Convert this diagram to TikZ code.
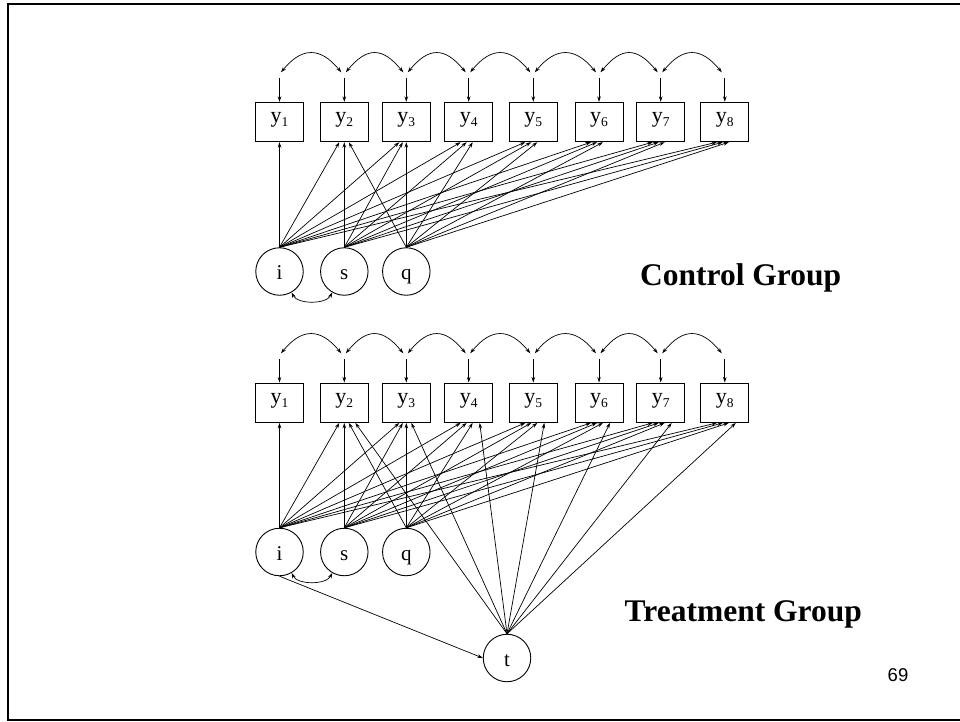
\documentclass[tikz,border=0pt]{standalone}
\usepackage{fontspec}
\setmainfont{Liberation Serif}
\newfontfamily\pagenumfont{Liberation Sans}
\usetikzlibrary{arrows.meta,calc}
\newcommand\ylab[1]{{\fontsize{22}{24}\selectfont y\raisebox{-4pt}{\fontsize{13.5}{15}\selectfont #1}}}
\begin{document}
\begin{tikzpicture}[x=1pt,y=-1pt,
  obs/.style={draw,line width=0.9pt,minimum width=48pt,minimum height=39.5pt,inner sep=0pt,text height=9.5pt,text depth=8.3pt},
  lat/.style={draw,circle,line width=0.9pt,minimum size=47.5pt,inner sep=0pt,font=\fontsize{21}{23}\selectfont,text height=16.6pt,text depth=0pt},
  arr/.style={line width=0.7pt,-{Stealth[length=5.5pt,width=3.6pt]}},
  cov/.style={line width=0.7pt,{Stealth[length=5.5pt,width=3.6pt]}-{Stealth[length=5.5pt,width=3.6pt]}},
  grp/.style={font=\fontsize{31.5}{36}\selectfont\bfseries,inner sep=0pt},
  frame/.style={line width=2pt}
]
\useasboundingbox (0,0) rectangle (960,721);
\draw[frame] (965,3.7) -- (7.7,3.7) -- (7.7,719.6) -- (965,719.6);

% ---------- boxes and residual coordinates ----------
\foreach \x [count=\k] in {279.5,344.3,406.3,468.7,533.3,599,660.7,724.8} {
  \node[obs] (a\k) at (\x,122) {\ylab{\k}};
  \node[obs] (b\k) at (\x,402.7) {\ylab{\k}};
  \coordinate (ra\k) at (\x,78.3);
  \coordinate (rb\k) at (\x,359.3);
  \coordinate (sa\k) at (\x+1.5,72.3);
  \coordinate (ea\k) at (\x-3,72.3);
  \coordinate (sb\k) at (\x+1.5,353.3);
  \coordinate (eb\k) at (\x-3,353.3);
  \draw[arr] (ra\k) -- (a\k);
  \draw[arr] (rb\k) -- (b\k);
}
\foreach \k [evaluate=\k as \n using int(\k+1)] in {1,...,7} {
  \draw[cov] (sa\k) .. controls +(21,-25.5) and +(-21,-25.5) .. (ea\n);
  \draw[cov] (sb\k) .. controls +(21,-25.5) and +(-21,-25.5) .. (eb\n);
}

% ---------- latent variables ----------
\node[lat] (ia) at (279.5,271.5) {i};
\node[lat] (sA) at (344.3,271.5) {s};
\node[lat] (qa) at (406.3,271.5) {q};
\node[lat] (ib) at (279.5,552) {i};
\node[lat] (sB) at (344.3,552) {s};
\node[lat] (qb) at (406.3,552) {q};
\node[lat] (t) at (507,658) {t};

\draw[cov] (ia.-60) .. controls +(6,12) and +(-6,12) .. (sA.-120);
\draw[cov] (ib.-60) .. controls +(6,12) and +(-6,12) .. (sB.-120);
\draw[arr] (ib.south) -- (t.west);

% ---------- loadings, both groups ----------
\foreach \g/\i/\s/\q in {a/ia/sA/qa, b/ib/sB/qb} {
  \draw[arr] (\i.north) -- (\g1.south);
  \draw[arr] (\i.north) -- ($(\g2.south)+(-5,0)$);
  \draw[arr] (\s.north) -- (\g2.south);
  \draw[arr] (\q.north) -- ($(\g2.south)+(4.5,0)$);
  \draw[arr] (\i.north) -- ($(\g3.south)+(-7,0)$);
  \draw[arr] (\s.north) -- ($(\g3.south)+(-3.5,0)$);
  \draw[arr] (\q.north) -- (\g3.south);
  \foreach \k in {4,...,8} {
    \draw[arr] (\i.north) -- ($(\g\k.south)+(-8,0)$);
    \draw[arr] (\s.north) -- ($(\g\k.south)+(-2,0)$);
    \draw[arr] (\q.north) -- ($(\g\k.south)+(4,0)$);
  }
}
% treatment effects
\draw[arr] (t.north) -- ($(b2.south)+(11,0)$);
\draw[arr] (t.north) -- ($(b3.south)+(5,0)$);
\foreach \k in {4,...,8} {
  \draw[arr] (t.north) -- ($(b\k.south)+(11,0)$);
}

% ---------- texts ----------
\node[grp,anchor=base west] (cg) at (640,285) {Control Group};
\node[grp,anchor=base west] (tg) at (624.5,621.7) {Treatment Group};
\node[anchor=base west,inner sep=0pt,font=\pagenumfont\fontsize{18.5}{20}\selectfont] (pn) at (887.5,681.7) {69};
\end{tikzpicture}
\end{document}
